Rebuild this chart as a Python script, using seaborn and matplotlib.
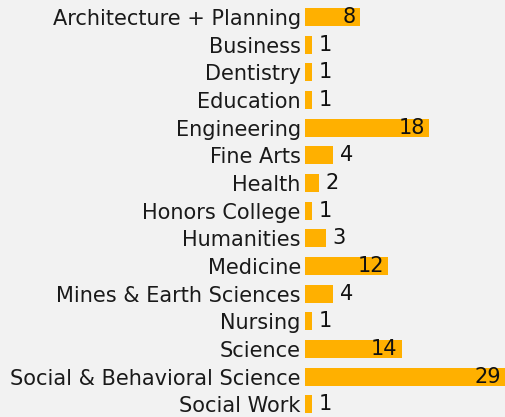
import matplotlib
matplotlib.use("Agg")
import matplotlib.pyplot as plt
import seaborn as sns
import pandas as pd

# --- Data ---
colleges = [
    "Architecture + Planning", "Business", "Dentistry", "Education",
    "Engineering", "Fine Arts", "Health", "Honors College", "Humanities",
    "Medicine", "Mines & Earth Sciences", "Nursing", "Science",
    "Social & Behavioral Science", "Social Work",
]
counts = [8, 1, 1, 1, 18, 4, 2, 1, 3, 12, 4, 1, 14, 29, 1]

BG = "#F2F2F2"
BAR = "#FFB000"
FONT = ["DejaVu Sans"]
FS = 15

df = pd.DataFrame({"college": colleges, "count": counts})

sns.set_theme(style="white")
plt.rcParams["font.family"] = FONT

fig = plt.figure(figsize=(5.06, 4.17), dpi=100, facecolor=BG)
ax = fig.add_axes([305 / 506, -0.003, 201 / 506, 415 / 417])
ax.set_facecolor(BG)

sns.barplot(data=df, x="count", y="college", color=BAR, width=0.65,
            saturation=1, linewidth=0, ax=ax, orient="h")

ax.set_xlim(0, 29.1)
ax.set_ylim(14.5, -0.5)
ax.set_xlabel("")
ax.set_ylabel("")
ax.set_xticks([])
ax.tick_params(axis="y", length=0, pad=3, labelsize=FS, labelcolor="#1a1a1a")
for s in ax.spines.values():
    s.set_visible(False)

# value labels: inside for long bars, just outside for short ones
for i, v in enumerate(counts):
    if v >= 8:
        ax.annotate(str(v), (v, i), xytext=(-3, 0), textcoords="offset points",
                    ha="right", va="center", fontsize=FS, color="#111111")
    else:
        ax.annotate(str(v), (v, i), xytext=(5, 0), textcoords="offset points",
                    ha="left", va="center", fontsize=FS, color="#111111")

fig.savefig("out.png", dpi=100, facecolor=BG)
